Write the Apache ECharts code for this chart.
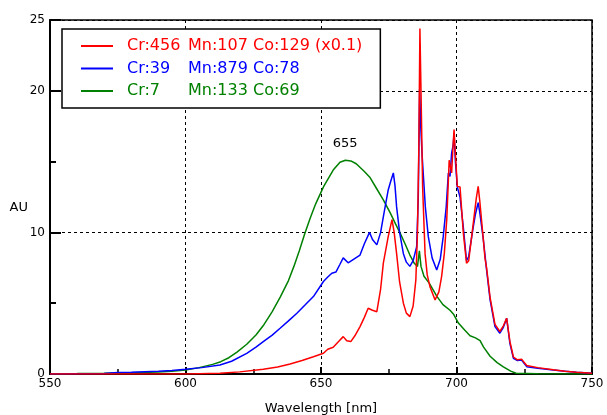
<!DOCTYPE html>
<html>
<head>
<meta charset="utf-8">
<script src="https://cdn.jsdelivr.net/npm/echarts@6/dist/echarts.min.js"></script>
<style>html,body{margin:0;padding:0;background:#fff}#c{width:607px;height:415px}</style>
</head>
<body>
<div id="c"></div>
<script>
// ---- data ----
const seriesNames = ['Cr:456 Mn:107 Co:129 (x0.1)', 'Cr:39 Mn:879 Co:78', 'Cr:7 Mn:133 Co:69'];
const seriesColors = ['#ff0000', '#0000ff', '#008000'];

const redWl = [550,600,605,612.7,620,628.7,634,638.6,643,647.2,650.9,652.5,654.5,656.5,658.2,659.5,661,662.5,664.4,666,667.4,668.1,669,670.6,672,673,674.8,676.2,677,677.9,679,680.4,681.5,682.8,684,685,685.6,686.1,686.5,686.9,687.5,688.4,689.2,690.2,692.1,693.5,694.5,695.5,696.4,697.3,697.8,698.2,698.7,699.1,699.6,700.3,701.3,702.5,703.7,704.5,706.2,707.3,708,708.6,709.9,710.5,711.1,712.4,714.2,716,717.3,718.5,719.7,721,722.5,724,725.9,730,735.7,740,744.3,750];
const redAU = [0,0,0.02,0.05,0.15,0.33,0.5,0.7,0.95,1.22,1.46,1.75,1.89,2.3,2.64,2.35,2.29,2.7,3.35,4.0,4.64,4.76,4.5,4.4,6.0,7.83,9.7,10.9,10.0,8.5,6.5,5.0,4.3,4.05,4.8,6.65,10,16,24.4,20,13.2,8.5,7.0,6.17,5.23,5.8,6.88,8.5,10.9,15.1,14.6,14.2,16.0,17.26,15.5,13.25,13.2,10.0,7.83,8.0,10.65,12.4,13.25,12.2,9.5,8.2,7.5,5.4,3.5,3.0,3.4,3.94,2.3,1.2,1.0,1.05,0.6,0.45,0.3,0.2,0.12,0.05];

const blueWl = [550,570,575,580,590,595,600,606,612.7,617,622.6,626,628.7,632,634.9,638,641.1,644,647.2,650.9,652.5,654,655.5,657,658.2,660,662,664.4,666,667.9,669,670.6,672,673,674.8,675.7,676.7,677.3,677.9,679,680.4,681.5,682.8,684,685.3,685.9,686.4,686.8,687.3,687.8,688.5,689.6,691,692.7,694,695.1,696.2,697,697.6,698.2,698.8,699.1,699.6,700.3,701.3,702.5,703.7,704.5,706.2,707,708,708.6,709.9,711.1,712.4,714.2,716,717.3,718.5,719.7,721,722.5,724,725.9,730,735.7,740,744.3,750];
const blueAU = [0,0.03,0.1,0.12,0.2,0.25,0.33,0.45,0.64,0.9,1.46,1.9,2.29,2.75,3.23,3.75,4.29,4.85,5.47,6.53,6.85,7.12,7.2,7.75,8.2,7.85,8.1,8.4,9.2,10.0,9.5,9.12,10.0,11.1,13.0,13.6,14.2,13.3,11.8,10.0,8.5,7.9,7.6,8.0,9.0,12.5,20.1,17.5,15.5,13.95,11.8,9.7,8.2,7.35,8.1,9.7,11.8,14.2,13.95,15.6,16.2,17.0,15.0,13.2,12.5,10.4,8.0,8.3,10.4,11.3,12.1,11.4,9.5,7.35,5.23,3.35,2.88,3.3,3.94,2.17,1.11,0.95,0.99,0.52,0.4,0.28,0.2,0.12,0.05];

const greenWl = [550,560,570,580,590,595,600,605,610,613,616,619,622.6,626,629,632,635,638,640,642,644,646,648,651,654.5,657,659,661,663,666,668,670.5,673,675.5,677.5,679.2,681,682.8,684.5,685.6,686.3,686.9,688,690,692.7,695,697.6,699,700.7,703,705,707,708.7,710,712.4,715,717.3,720,722,730,750];
const greenAU = [0.02,0.03,0.05,0.08,0.15,0.2,0.28,0.45,0.68,0.87,1.15,1.55,2.1,2.75,3.5,4.4,5.45,6.6,7.6,8.7,9.9,11.0,12.0,13.25,14.4,14.95,15.1,15.05,14.85,14.3,13.9,13.1,12.3,11.4,10.6,9.95,9.2,8.4,7.8,7.6,8.7,7.6,6.9,6.4,5.5,4.9,4.5,4.2,3.6,3.1,2.7,2.55,2.35,1.9,1.25,0.8,0.5,0.2,0.05,0.02,0];

const peakLabelText = '655';
const peakLabelPos = [658.9, 16.3];

const xTickLabels = [550, 600, 650, 700, 750];
const yTickLabels = [0, 10, 20, 25];

// ---- chart ----
const FONT = 'DejaVu Sans';
function pairs(xs, ys) { return xs.map((x, i) => [x, ys[i]]); }
const seriesData = [pairs(redWl, redAU), pairs(blueWl, blueAU), pairs(greenWl, greenAU)];
const keys = ['r', 'b', 'g'];
const rich = { p: { width: 9 } };
keys.forEach((k, i) => {
  rich[k + 'a'] = { color: seriesColors[i], width: 61, fontSize: 16, fontFamily: FONT };
  rich[k + 'b'] = { color: seriesColors[i], fontSize: 16, fontFamily: FONT };
});

const chart = echarts.init(document.getElementById('c'), null, { renderer: 'canvas' });
chart.setOption({
  animation: false,
  backgroundColor: '#fff',
  grid: { left: 50, right: 15, top: 20, bottom: 41, outerBoundsMode: 'none', containLabel: false,
    show: true, borderColor: '#000', borderWidth: 1.5, backgroundColor: 'transparent' },
  legend: {
    orient: 'vertical', left: 62, top: 29,
    icon: 'rect', itemWidth: 32, itemHeight: 2, itemGap: 2.5,
    padding: [7, 18, 7, 19],
    borderColor: '#000', borderWidth: 1.5, backgroundColor: '#fff',
    textStyle: { fontFamily: FONT, fontSize: 16, lineHeight: 20, rich: rich },
    formatter: function (name) {
      const idx = seriesNames.indexOf(name);
      const k = keys[idx];
      const sp = name.indexOf(' ');
      return '{p|}{' + k + 'a|' + name.slice(0, sp) + '}{' + k + 'b|' + name.slice(sp + 1) + '}';
    },
    data: seriesNames
  },
  xAxis: {
    type: 'value', min: xTickLabels[0], max: xTickLabels[xTickLabels.length - 1], interval: 50,
    name: 'Wavelength [nm]', nameLocation: 'middle', nameGap: 28, nameMoveOverlap: false,
    nameTextStyle: { fontFamily: FONT, fontSize: 13, color: '#000' },
    axisLine: { show: true, lineStyle: { color: '#000', width: 2 } },
    axisTick: { show: true, inside: true, length: 7, lineStyle: { color: '#000', width: 2 } },
    minorTick: { show: true, splitNumber: 2, length: 5, lineStyle: { color: '#000', width: 1.5 } },
    splitLine: { show: true, lineStyle: { color: '#000', width: 1, type: [3, 3] } },
    axisLabel: { color: '#000', fontFamily: FONT, fontSize: 12, margin: 4 }
  },
  yAxis: [{
    type: 'value', min: 0, max: 25, interval: 10, position: 'left',
    name: 'AU', nameLocation: 'middle', nameGap: 22, nameRotate: 0, nameMoveOverlap: false,
    nameTextStyle: { fontFamily: FONT, fontSize: 13, color: '#000', verticalAlign: 'top', padding: [4, 0, 0, 0] },
    axisLine: { show: true, lineStyle: { color: '#000', width: 2 } },
    axisTick: { show: true, inside: true, length: 11, lineStyle: { color: '#000', width: 2 } },
    splitLine: { show: true, lineStyle: { color: '#000', width: 1, type: [3, 3] } },
    axisLabel: { color: '#000', fontFamily: FONT, fontSize: 12, margin: 5 }
  }, {
    type: 'value', min: 0, max: 25, interval: 5, position: 'left', offset: 0,
    axisLine: { show: false },
    axisTick: { show: true, inside: true, length: 6, lineStyle: { color: '#000', width: 2 } },
    splitLine: { show: false },
    axisLabel: { show: false }
  }],
  series: [
    { name: seriesNames[2], type: 'line', data: seriesData[2], color: seriesColors[2], showSymbol: false, lineStyle: { width: 1.5 }, z: 3,
      markPoint: { symbol: 'rect', symbolSize: [1, 1], itemStyle: { color: 'transparent' },
        label: { show: true, position: 'inside', formatter: peakLabelText, color: '#000', fontFamily: FONT, fontSize: 13 },
        data: [{ coord: peakLabelPos }] } },
    { name: seriesNames[1], type: 'line', data: seriesData[1], color: seriesColors[1], showSymbol: false, lineStyle: { width: 1.5 }, z: 3 },
    { name: seriesNames[0], type: 'line', data: seriesData[0], color: seriesColors[0], showSymbol: false, lineStyle: { width: 1.5 }, z: 3 }
  ]
});
</script>
</body>
</html>
